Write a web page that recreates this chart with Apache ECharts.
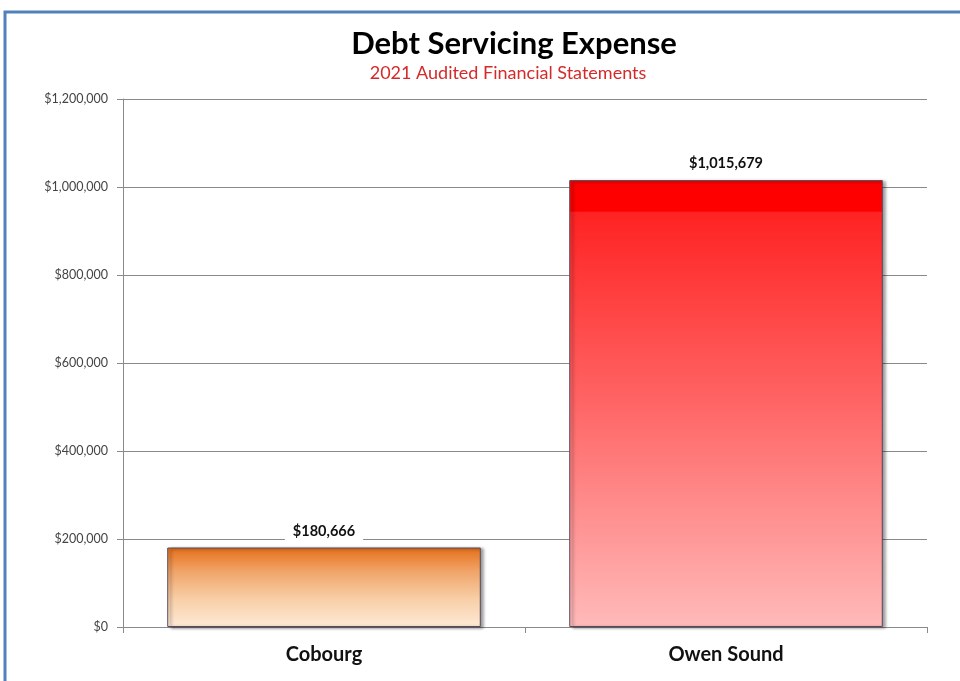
<!DOCTYPE html>
<html>
<head>
<meta charset="utf-8">
<script src="https://cdn.jsdelivr.net/npm/echarts@6/dist/echarts.min.js"></script>
<style>
  html, body { margin: 0; padding: 0; background: #fff; }
  #chart { width: 960px; height: 681px; }
</style>
</head>
<body>
<div id="chart"></div>
<script>
// Debt servicing expense by municipality (2021 audited statements)
const categories = ['Cobourg', 'Owen Sound'];
const expense = [180666, 1015679];
const yTicks = [0, 200000, 400000, 600000, 800000, 1000000, 1200000];

const fmtMoney = v => '$' + Math.round(v).toLocaleString('en-US');

const barFills = [
  new echarts.graphic.LinearGradient(0, 0, 0, 1, [
    { offset: 0, color: '#e6701a' },
    { offset: 0.3, color: '#f0a468' },
    { offset: 0.65, color: '#f8cfa8' },
    { offset: 1, color: '#fde9d6' }
  ]),
  new echarts.graphic.LinearGradient(0, 0, 0, 1, [
    { offset: 0, color: '#ff0000' },
    { offset: 0.07, color: '#ff0000' },
    { offset: 0.071, color: '#ff2222' },
    { offset: 0.5, color: '#ff6565' },
    { offset: 1, color: '#ffbaba' }
  ])
];

const chart = echarts.init(document.getElementById('chart'), null, { renderer: 'canvas' });

chart.setOption({
  animation: false,
  backgroundColor: '#fff',
  title: [
    {
      text: 'Debt Servicing Expense',
      left: 509,
      textAlign: 'center',
      top: 23,
      textStyle: { fontFamily: 'Lato', fontWeight: 'bold', fontSize: 31, color: '#000' }
    },
    {
      text: '2021 Audited Financial Statements',
      left: 503,
      textAlign: 'center',
      top: 59,
      textStyle: { fontFamily: 'Lato', fontWeight: 'normal', fontSize: 18, color: '#d42a2a' }
    }
  ],
  graphic: [
    { type: 'rect', shape: { x: 5, y: 12, width: 970, height: 700 },
      style: { fill: 'none', stroke: '#4f81bd', lineWidth: 3 }, z: 100 }
  ],
  grid: { left: 123, right: 33, top: 99, bottom: 54 },
  xAxis: {
    type: 'category',
    data: categories,
    axisLine: { lineStyle: { color: '#8a8a8a', width: 1 } },
    axisTick: { show: true, alignWithLabel: false, length: 6, lineStyle: { color: '#8a8a8a' } },
    axisLabel: { fontFamily: 'Lato', fontWeight: 'bold', fontSize: 20, color: '#111', margin: 18 }
  },
  yAxis: {
    type: 'value',
    min: 0,
    max: yTicks[yTicks.length - 1],
    interval: yTicks[1] - yTicks[0],
    axisLine: { show: true, lineStyle: { color: '#8a8a8a' } },
    axisTick: { show: true, length: 6, lineStyle: { color: '#8a8a8a' } },
    splitLine: { lineStyle: { color: '#8a8a8a', width: 1 } },
    axisLabel: { formatter: fmtMoney, fontFamily: 'Lato', fontSize: 12.5, color: '#444', margin: 15 }
  },
  series: [{
    type: 'bar',
    barWidth: '78%',
    data: expense.map((v, i) => ({
      value: v,
      itemStyle: { color: barFills[i] }
    })),
    itemStyle: {
      borderColor: '#5a4a5e',
      borderWidth: 1,
      shadowColor: 'rgba(0,0,0,0.45)',
      shadowBlur: 3,
      shadowOffsetX: 3,
      shadowOffsetY: 1
    },
    label: {
      show: true,
      position: 'top',
      distance: 7,
      formatter: p => fmtMoney(p.value),
      fontFamily: 'Lato',
      fontWeight: 'bold',
      fontSize: 14.5,
      color: '#111',
      backgroundColor: '#fff',
      padding: [2, 8]
    }
  }]
});
</script>
</body>
</html>
